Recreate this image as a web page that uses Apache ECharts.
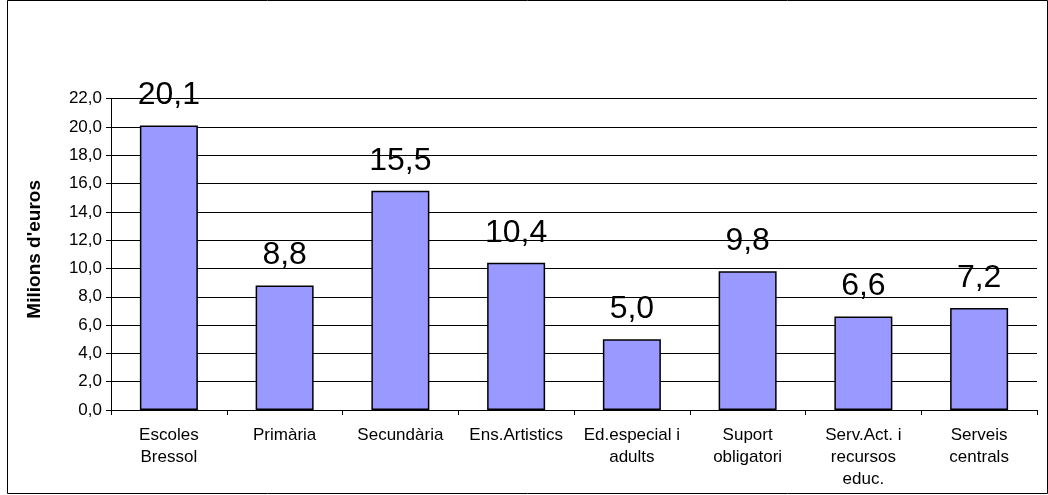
<!DOCTYPE html>
<html>
<head>
<meta charset="utf-8">
<script src="https://cdn.jsdelivr.net/npm/echarts@6/dist/echarts.min.js"></script>
<style>html,body{margin:0;padding:0;background:#fff}#c{width:1048px;height:495px}</style>
</head>
<body>
<div id="c"></div>
<script>
const categories = ["Escoles\nBressol", "Primària", "Secundària", "Ens.Artistics", "Ed.especial i\nadults", "Suport\nobligatori", "Serv.Act. i\nrecursos\neduc.", "Serveis\ncentrals"];
const values = [20.1, 8.8, 15.5, 10.4, 5.0, 9.8, 6.6, 7.2];
const yAxisName = "Milions d'euros";

const fmt = v => Number(v).toFixed(1).replace('.', ',');
const font = "'Liberation Sans', Arial, sans-serif";

const chart = echarts.init(document.getElementById('c'), null, {renderer: 'canvas'});
chart.setOption({
  animation: false,
  backgroundColor: '#fff',
  graphic: [{
    type: 'rect', silent: true, z: 100,
    shape: {x: 7.5, y: 0.5, width: 1040, height: 493},
    style: {fill: 'none', stroke: '#000', lineWidth: 1}
  }],
  grid: {left: 111, right: 11, top: 98.7, bottom: 85, containLabel: false},
  xAxis: {
    type: 'category',
    data: categories,
    axisLine: {lineStyle: {color: '#000', width: 1}},
    axisTick: {show: true, alignWithLabel: false, length: 5, lineStyle: {color: '#000'}},
    axisLabel: {color: '#000', fontFamily: font, fontSize: 17, lineHeight: 22, margin: 14, interval: 0},
    splitLine: {show: false}
  },
  yAxis: {
    type: 'value',
    min: 0, max: 22, interval: 2,
    name: yAxisName,
    nameLocation: 'middle',
    nameGap: 67,
    nameRotate: 90,
    nameTextStyle: {color: '#000', fontFamily: font, fontSize: 19, fontWeight: 'bold', padding: [0, 0, 0, 10]},
    axisLine: {show: true, lineStyle: {color: '#000', width: 1}},
    axisTick: {show: true, length: 5, lineStyle: {color: '#000'}},
    axisLabel: {color: '#000', fontFamily: font, fontSize: 17, margin: 9, formatter: fmt},
    splitLine: {show: true, lineStyle: {color: '#000', width: 1}}
  },
  series: [{
    type: 'bar',
    data: values,
    barWidth: 58,
    itemStyle: {color: '#9999FF', borderColor: '#000', borderWidth: 1.5},
    label: {show: true, position: 'top', distance: 14, color: '#000', fontFamily: font, fontSize: 32, formatter: p => fmt(p.value)}
  }]
});
</script>
</body>
</html>
